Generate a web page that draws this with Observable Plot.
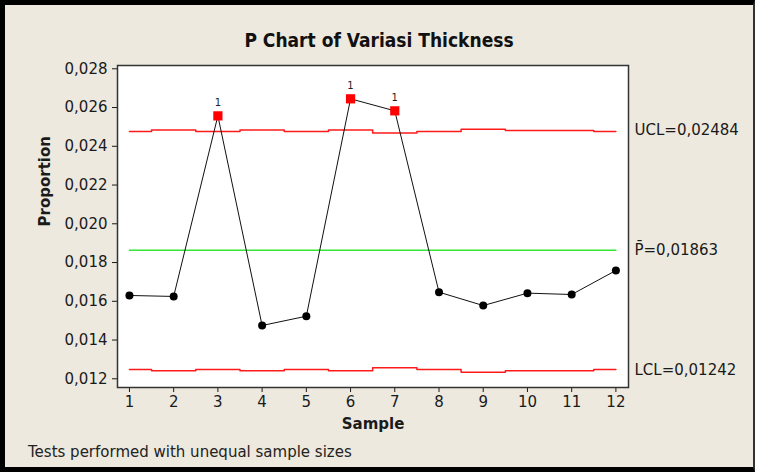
<!DOCTYPE html>
<html><head><meta charset="utf-8">
<script src="https://cdn.jsdelivr.net/npm/d3@7"></script>
<script src="https://cdn.jsdelivr.net/npm/@observablehq/plot@0.6"></script>
<style>
html,body{margin:0;padding:0;background:#fff;}
#wrap{position:relative;width:758px;height:472px;overflow:hidden;}
#bg{position:absolute;left:0;top:0;width:755px;height:472px;box-sizing:border-box;background:#EDE9DF;border-top:5px solid #000;border-left:5px solid #000;border-bottom:5px solid #000;border-right:2px solid #333;}
#chart{position:absolute;left:0;top:0;}
#title{position:absolute;left:0;width:758px;top:29px;text-align:center;font:bold 19px "DejaVu Sans Condensed","Liberation Sans Narrow","DejaVu Sans",sans-serif;color:#111;}
#foot{position:absolute;left:28px;top:443px;font:15px "DejaVu Sans",sans-serif;color:#222;}
</style></head><body>
<div id="wrap"><div id="bg"></div><div id="chart"></div><div id="title">P Chart of Variasi Thickness</div><div id="foot">Tests performed with unequal sample sizes</div></div>
<script>
const samples = [1, 2, 3, 4, 5, 6, 7, 8, 9, 10, 11, 12];
const proportion = [0.01630, 0.01625, 0.02557, 0.01475, 0.01523, 0.02645, 0.02583, 0.01647, 0.01578, 0.01642, 0.01635, 0.01759];
const ucl = [0.02476, 0.02484, 0.02476, 0.02484, 0.02476, 0.02484, 0.02469, 0.02476, 0.02488, 0.02482, 0.02482, 0.02476];
const lcl = [0.01248, 0.01241, 0.01248, 0.01241, 0.01248, 0.01241, 0.01257, 0.01248, 0.01234, 0.01241, 0.01241, 0.01248];
const pBar = 0.01863;
const limitLabels = ["UCL=0,02484", "P\u0304=0,01863", "LCL=0,01242"];
const limitValues = [0.02484, 0.01863, 0.01242];
const yTicks = [0.012, 0.014, 0.016, 0.018, 0.020, 0.022, 0.024, 0.026, 0.028];

const data = samples.map((s, i) => ({sample: s, p: proportion[i], ucl: ucl[i], lcl: lcl[i],
  out: proportion[i] > ucl[i] || proportion[i] < lcl[i]}));
const fmt = v => d3.format(".3f")(v).replace(".", ",");

const chart = Plot.plot({
  width: 758, height: 472,
  marginLeft: 117, marginRight: 130, marginTop: 65, marginBottom: 85,
  style: {background: "transparent", fontFamily: "DejaVu Sans, sans-serif", fontSize: "15px", color: "#1a1a1a", overflow: "visible"},
  x: {domain: [0.73, 12.285]},
  y: {domain: [0.01155, 0.02817]},
  marks: [
    Plot.frame({fill: "white"}),
    Plot.line(data, {x: "sample", y: "ucl", curve: "step", stroke: "#ff1a1a", strokeWidth: 1.5}),
    Plot.line(data, {x: "sample", y: "lcl", curve: "step", stroke: "#ff1a1a", strokeWidth: 1.5}),
    Plot.line(data, {x: "sample", y: () => pBar, stroke: "#33e633", strokeWidth: 1.5}),
    Plot.line(data, {x: "sample", y: "p", stroke: "#111", strokeWidth: 1}),
    Plot.dot(data.filter(d => !d.out), {x: "sample", y: "p", r: 4, fill: "#000"}),
    Plot.dot(data.filter(d => d.out), {x: "sample", y: "p", r: 5.2, symbol: "square", fill: "#ff0000"}),
    Plot.text(data.filter(d => d.out), {x: "sample", y: "p", text: () => "1", dy: -13, fontSize: 10, fill: "#222"}),
    Plot.text(limitLabels, {frameAnchor: "right", y: (d, i) => limitValues[i], text: d => d, textAnchor: "start", dx: 6, fontSize: 15}),
    Plot.axisY({ticks: yTicks, tickFormat: fmt, tickSize: 5, tickPadding: 5, label: null}),
    Plot.axisX({ticks: samples, tickFormat: d => String(d), tickSize: 5, tickPadding: 4, label: null}),
    Plot.text(["Proportion"], {frameAnchor: "left", dx: -72, rotate: -90, text: d => d, fontWeight: "bold", fontSize: 15}),
    Plot.text(["Sample"], {frameAnchor: "bottom", lineAnchor: "middle", dy: 37, text: d => d, fontWeight: "bold", fontSize: 15}),
    Plot.frame({stroke: "#333", strokeWidth: 1.5})
  ]
});
document.getElementById("chart").appendChild(chart);
</script>
</body></html>
